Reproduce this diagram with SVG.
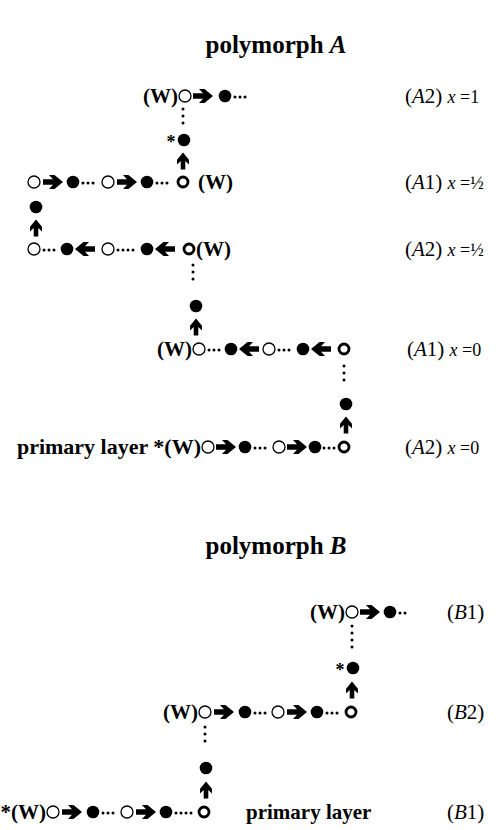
<svg xmlns="http://www.w3.org/2000/svg" xmlns:xlink="http://www.w3.org/1999/xlink" width="498" height="830" viewBox="0 0 498 830">
  <style>
    .title { font-family: "Liberation Serif", "Times New Roman", serif; font-size: 25px; font-weight: bold; fill: #000; }
    .w { font-family: "Liberation Serif", "Times New Roman", serif; font-size: 21px; font-weight: bold; fill: #000; }
    .lbl { font-family: "Liberation Serif", "Times New Roman", serif; font-size: 21px; fill: #000; }
    .sm { font-size: 18px; }
    .it { font-style: italic; }
    .o { fill: #fff; stroke: #000; stroke-width: 1.3; }
    .ob { fill: #fff; stroke: #000; stroke-width: 2.8; }
    .f { fill: #000; }
    .d { fill: #000; }
  </style>
  <defs>
    <!-- heavy arrow pointing right, centred on the origin -->
    <path id="ar" d="M-10,-2.7 H0 L-4,-7 H1.5 L10,0 L1.5,7 H-4 L0,2.7 H-10 Z" fill="#000"/>
    <!-- open ring, bold ring, filled atom, small dot -->
    <circle id="o" r="6" class="o"/>
    <circle id="ob" r="5" class="ob"/>
    <circle id="f" r="6.3" class="f"/>
    <circle id="d" r="1.5" class="d"/>
  </defs>

  <rect width="498" height="830" fill="#fff"/>

  <!-- ===== polymorph A ===== -->
  <text class="title" x="276" y="53" text-anchor="middle">polymorph <tspan class="it">A</tspan></text>

  <g id="rowA2-x1">
    <text class="w" x="178" y="103" text-anchor="end">(W)</text>
    <use href="#o" x="185" y="96"/>
    <use href="#ar" transform="translate(203,96)"/>
    <use href="#f" x="225" y="96"/>
    <use href="#d" x="235" y="97"/><use href="#d" x="240" y="97"/><use href="#d" x="245" y="97"/>
    <text class="lbl" x="405" y="103">(<tspan class="it">A</tspan>2) <tspan class="sm"><tspan class="it">x</tspan> =1</tspan></text>
  </g>

  <g id="rowA1-xhalf">
    <use href="#o" x="34" y="182"/>
    <use href="#ar" transform="translate(53,182)"/>
    <use href="#f" x="73" y="182"/>
    <use href="#d" x="83" y="183"/><use href="#d" x="88" y="183"/><use href="#d" x="93" y="183"/>
    <use href="#o" x="108" y="182"/>
    <use href="#ar" transform="translate(127,182)"/>
    <use href="#f" x="147" y="182"/>
    <use href="#d" x="157" y="183"/><use href="#d" x="162" y="183"/><use href="#d" x="167" y="183"/>
    <use href="#ob" x="183" y="182"/>
    <text class="w" x="198" y="189">(W)</text>
    <text class="lbl" x="405" y="189">(<tspan class="it">A</tspan>1) <tspan class="sm"><tspan class="it">x</tspan> =½</tspan></text>
  </g>

  <g id="rowA2-xhalf">
    <use href="#o" x="34" y="249"/>
    <use href="#d" x="44" y="250"/><use href="#d" x="49" y="250"/><use href="#d" x="54" y="250"/>
    <use href="#f" x="67" y="249"/>
    <use href="#ar" transform="translate(85,249) rotate(180)"/>
    <use href="#o" x="108" y="249"/>
    <use href="#d" x="118" y="250"/><use href="#d" x="123" y="250"/><use href="#d" x="128" y="250"/><use href="#d" x="133" y="250"/>
    <use href="#f" x="147" y="249"/>
    <use href="#ar" transform="translate(165,249) rotate(180)"/>
    <use href="#ob" x="189" y="249"/>
    <text class="w" x="196" y="256">(W)</text>
    <text class="lbl" x="405" y="256">(<tspan class="it">A</tspan>2) <tspan class="sm"><tspan class="it">x</tspan> =½</tspan></text>
  </g>

  <g id="rowA1-x0">
    <text class="w" x="192" y="356" text-anchor="end">(W)</text>
    <use href="#o" x="199" y="349"/>
    <use href="#d" x="209" y="350"/><use href="#d" x="214" y="350"/><use href="#d" x="219" y="350"/>
    <use href="#f" x="231" y="349"/>
    <use href="#ar" transform="translate(249,349) rotate(180)"/>
    <use href="#o" x="269" y="349"/>
    <use href="#d" x="279" y="350"/><use href="#d" x="284" y="350"/><use href="#d" x="289" y="350"/>
    <use href="#f" x="303" y="349"/>
    <use href="#ar" transform="translate(321,349) rotate(180)"/>
    <use href="#ob" x="344" y="349"/>
    <text class="lbl" x="407" y="356">(<tspan class="it">A</tspan>1) <tspan class="sm"><tspan class="it">x</tspan> =0</tspan></text>
  </g>

  <g id="rowA2-x0">
    <text class="w" x="201" y="454" text-anchor="end" style="font-size:22px">primary layer *(W)</text>
    <use href="#o" x="208" y="447"/>
    <use href="#ar" transform="translate(226,447)"/>
    <use href="#f" x="245" y="447"/>
    <use href="#d" x="255" y="448"/><use href="#d" x="260" y="448"/><use href="#d" x="265" y="448"/>
    <use href="#o" x="279" y="447"/>
    <use href="#ar" transform="translate(297,447)"/>
    <use href="#f" x="315" y="447"/>
    <use href="#d" x="324" y="448"/><use href="#d" x="329" y="448"/><use href="#d" x="334" y="448"/>
    <use href="#ob" x="344" y="447"/>
    <text class="lbl" x="405" y="454">(<tspan class="it">A</tspan>2) <tspan class="sm"><tspan class="it">x</tspan> =0</tspan></text>
  </g>

  <!-- ===== polymorph B ===== -->
  <text class="title" x="276" y="554" text-anchor="middle">polymorph <tspan class="it">B</tspan></text>

  <g id="rowB1-top">
    <text class="w" x="345" y="619" text-anchor="end">(W)</text>
    <use href="#o" x="352" y="612"/>
    <use href="#ar" transform="translate(370,612)"/>
    <use href="#f" x="390" y="612"/>
    <use href="#d" x="400" y="613"/><use href="#d" x="405" y="613"/>
    <text class="lbl" x="447" y="619">(<tspan class="it">B</tspan>1)</text>
  </g>

  <g id="rowB2">
    <text class="w" x="198" y="719" text-anchor="end">(W)</text>
    <use href="#o" x="205" y="712"/>
    <use href="#ar" transform="translate(224,712)"/>
    <use href="#f" x="245" y="712"/>
    <use href="#d" x="255" y="713"/><use href="#d" x="260" y="713"/><use href="#d" x="265" y="713"/>
    <use href="#o" x="278" y="712"/>
    <use href="#ar" transform="translate(297,712)"/>
    <use href="#f" x="317" y="712"/>
    <use href="#d" x="327" y="713"/><use href="#d" x="332" y="713"/><use href="#d" x="337" y="713"/>
    <use href="#ob" x="351" y="712"/>
    <text class="lbl" x="447" y="719">(<tspan class="it">B</tspan>2)</text>
  </g>

  <g id="rowB1-bottom">
    <text class="w" x="46" y="819" text-anchor="end">*(W)</text>
    <use href="#o" x="53" y="812"/>
    <use href="#ar" transform="translate(72,812)"/>
    <use href="#f" x="93" y="812"/>
    <use href="#d" x="103" y="813"/><use href="#d" x="108" y="813"/><use href="#d" x="113" y="813"/>
    <use href="#o" x="127" y="812"/>
    <use href="#ar" transform="translate(146,812)"/>
    <use href="#f" x="166" y="812"/>
    <use href="#d" x="176" y="813"/><use href="#d" x="181" y="813"/><use href="#d" x="186" y="813"/><use href="#d" x="191" y="813"/>
    <use href="#ob" x="204" y="812"/>
    <text class="w" x="246" y="819">primary layer</text>
    <text class="lbl" x="447" y="819">(<tspan class="it">B</tspan>1)</text>
  </g>

  <!-- vertical links between layers: upward arrow, bridging atom, dotted contact -->
  <g id="connectors">
    <!-- A1 (x=1/2) up to A2 (x=1) -->
    <use href="#d" x="183" y="109"/><use href="#d" x="183" y="116"/><use href="#d" x="183" y="123"/>
    <text class="w" x="171" y="148" text-anchor="middle" style="font-size:18px">*</text>
    <use href="#f" x="184" y="140"/>
    <use href="#ar" transform="translate(183,161) rotate(-90) scale(0.85)"/>

    <!-- A2 (x=1/2) up to A1 (x=1/2) -->
    <use href="#f" x="36" y="207"/>
    <use href="#ar" transform="translate(36,228) rotate(-90) scale(0.85)"/>

    <!-- A1 (x=0) up to A2 (x=1/2) -->
    <use href="#d" x="193" y="265"/><use href="#d" x="193" y="272"/><use href="#d" x="193" y="279"/>
    <use href="#f" x="196" y="306"/>
    <use href="#ar" transform="translate(196,327) rotate(-90) scale(0.85)"/>

    <!-- A2 (x=0) up to A1 (x=0) -->
    <use href="#d" x="344" y="366"/><use href="#d" x="344" y="373"/><use href="#d" x="344" y="380"/>
    <use href="#f" x="346" y="404"/>
    <use href="#ar" transform="translate(346,425) rotate(-90) scale(0.85)"/>

    <!-- B2 up to B1 -->
    <use href="#d" x="352" y="626"/><use href="#d" x="352" y="633"/><use href="#d" x="352" y="640"/><use href="#d" x="352" y="647"/>
    <text class="w" x="340" y="676" text-anchor="middle" style="font-size:18px">*</text>
    <use href="#f" x="353" y="668"/>
    <use href="#ar" transform="translate(352,690) rotate(-90) scale(0.85)"/>

    <!-- B1 (primary) up to B2 -->
    <use href="#d" x="205" y="727"/><use href="#d" x="205" y="734"/><use href="#d" x="205" y="741"/>
    <use href="#f" x="206" y="768"/>
    <use href="#ar" transform="translate(206,790) rotate(-90) scale(0.85)"/>
  </g>
</svg>
